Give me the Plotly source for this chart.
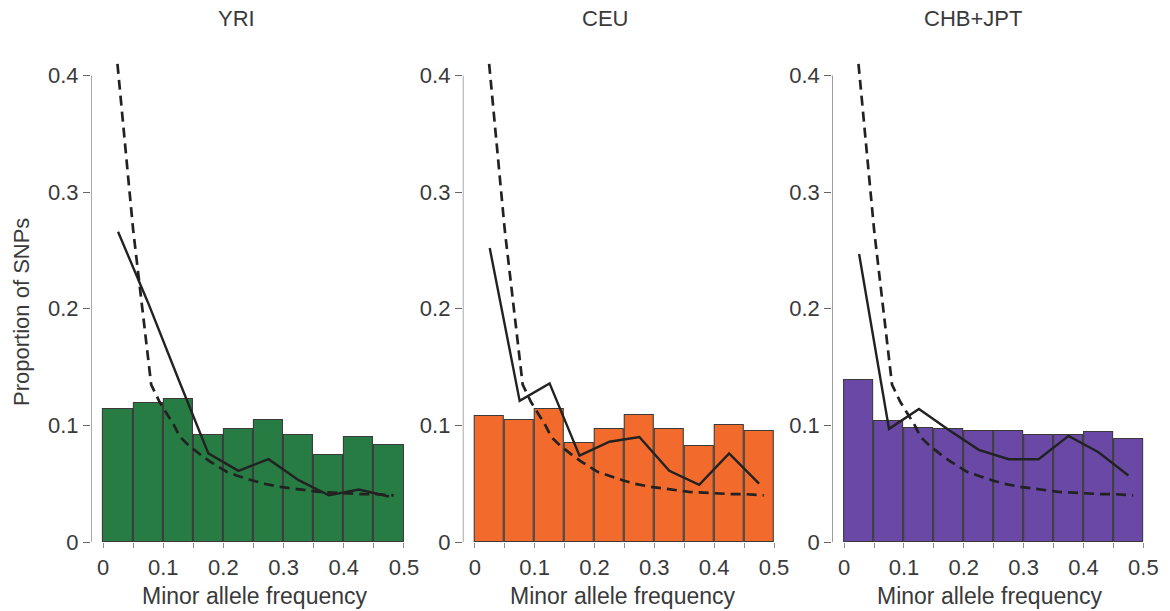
import plotly.graph_objects as go

# ---------------- data ----------------
panel_titles = ["YRI", "CEU", "CHB+JPT"]
bin_centers = [0.025, 0.075, 0.125, 0.175, 0.225, 0.275, 0.325, 0.375, 0.425, 0.475]

yri_bars = [0.114, 0.119, 0.123, 0.092, 0.097, 0.105, 0.092, 0.075, 0.090, 0.083]
ceu_bars = [0.108, 0.105, 0.114, 0.085, 0.097, 0.109, 0.097, 0.082, 0.100, 0.095]
chb_bars = [0.139, 0.104, 0.098, 0.097, 0.095, 0.095, 0.092, 0.092, 0.094, 0.088]

yri_line = [0.266, 0.205, 0.140, 0.076, 0.061, 0.071, 0.053, 0.040, 0.045, 0.039]
ceu_line = [0.252, 0.121, 0.136, 0.074, 0.086, 0.090, 0.061, 0.049, 0.076, 0.050]
chb_line = [0.247, 0.097, 0.114, 0.096, 0.079, 0.071, 0.071, 0.091, 0.077, 0.057]

neutral_x = [0.024, 0.05, 0.08, 0.094, 0.106, 0.117, 0.128, 0.142, 0.164, 0.178,
             0.206, 0.222, 0.247, 0.267, 0.297, 0.314, 0.339, 0.358, 0.43, 0.453, 0.483]
neutral_y = [0.41, 0.268, 0.135, 0.12, 0.11, 0.101, 0.09, 0.083, 0.074, 0.069,
             0.06, 0.057, 0.053, 0.05, 0.047, 0.046, 0.044, 0.043, 0.041, 0.041, 0.040]

x_tickvals = [0, 0.05, 0.1, 0.15, 0.2, 0.25, 0.3, 0.35, 0.4, 0.45, 0.5]
x_ticktext = ["0", "", "0.1", "", "0.2", "", "0.3", "", "0.4", "", "0.5"]
y_tickvals = [0, 0.1, 0.2, 0.3, 0.4]
y_ticktext = ["0", "0.1", "0.2", "0.3", "0.4"]

bar_colors = ["#277c44", "#f26b2d", "#6a48a6"]
x_axis_title = "Minor allele frequency"
y_axis_title = "Proportion of SNPs"

# ---------------- layout helpers ----------------
W, H = 1170, 611
MT, MB = 58, 69
FONT = "Liberation Sans, Arial, Helvetica, sans-serif"
TXT = "#3a3a3a"

def px_x(p):
    return p / W

def px_y(p):
    return (H - MB - p) / (H - MB - MT)

domains = [(91.2, 417.1), (464.0, 788.0), (834.3, 1158.3)]
title_px = [237, 607, 975]
xtitle_px = [256, 625, 993]

fig = go.Figure()
bars_all = [yri_bars, ceu_bars, chb_bars]
lines_all = [yri_line, ceu_line, chb_line]

for i in range(3):
    sfx = "" if i == 0 else str(i + 1)
    xa, ya = "x" + sfx, "y" + sfx
    fig.add_trace(go.Bar(
        x=bin_centers, y=bars_all[i], width=0.0485,
        marker=dict(color=bar_colors[i], line=dict(color="#3a3a3a", width=1.1)),
        xaxis=xa, yaxis=ya, showlegend=False))
    fig.add_trace(go.Scatter(
        x=neutral_x, y=neutral_y, mode="lines",
        line=dict(color="#222222", width=2.7, dash="10px,6px"),
        xaxis=xa, yaxis=ya, showlegend=False))
    fig.add_trace(go.Scatter(
        x=bin_centers, y=lines_all[i], mode="lines",
        line=dict(color="#222222", width=2.4),
        xaxis=xa, yaxis=ya, showlegend=False))

    d0, d1 = domains[i]
    fig.layout["xaxis" + sfx] = dict(
        domain=[px_x(d0), px_x(d1)], range=[-0.02, 0.52], anchor=ya,
        showgrid=False, zeroline=False, showline=False,
        tickmode="array", tickvals=x_tickvals, ticktext=x_ticktext,
        ticks="outside", ticklen=5, tickwidth=1, tickcolor="#8a8a8a",
        ticklabelstandoff=1,
        tickfont=dict(family=FONT, size=22, color=TXT), fixedrange=True)
    fig.layout["yaxis" + sfx] = dict(
        domain=[0, 1], range=[0, 0.415], anchor=xa,
        showgrid=False, zeroline=False, showline=False,
        tickmode="array", tickvals=y_tickvals, ticktext=y_ticktext,
        ticks="outside", ticklen=7, tickwidth=1, tickcolor="#666666",
        tickfont=dict(family=FONT, size=22, color=TXT), fixedrange=True)
    # y axis line spanning 0 .. 0.4 only
    fig.add_shape(type="line", xref=xa, yref=ya, x0=-0.02, x1=-0.02, y0=0, y1=0.4,
                  line=dict(color="#666666", width=1.2))
    fig.add_annotation(text=panel_titles[i], x=px_x(title_px[i]), y=px_y(18),
                       xref="paper", yref="paper", showarrow=False,
                       xanchor="center", yanchor="middle",
                       font=dict(family=FONT, size=22, color=TXT))
    fig.add_annotation(text=x_axis_title, x=px_x(xtitle_px[i]), y=px_y(596),
                       xref="paper", yref="paper", showarrow=False,
                       xanchor="center", yanchor="middle",
                       font=dict(family=FONT, size=23, color=TXT))

fig.add_annotation(text=y_axis_title, x=px_x(21), y=px_y(312),
                   xref="paper", yref="paper", showarrow=False, textangle=-90,
                   xanchor="center", yanchor="middle",
                   font=dict(family=FONT, size=22, color=TXT))

fig.update_layout(
    width=W, height=H, margin=dict(l=0, r=0, t=MT, b=MB),
    paper_bgcolor="white", plot_bgcolor="white", bargap=0)

fig.write_html("out.html")
